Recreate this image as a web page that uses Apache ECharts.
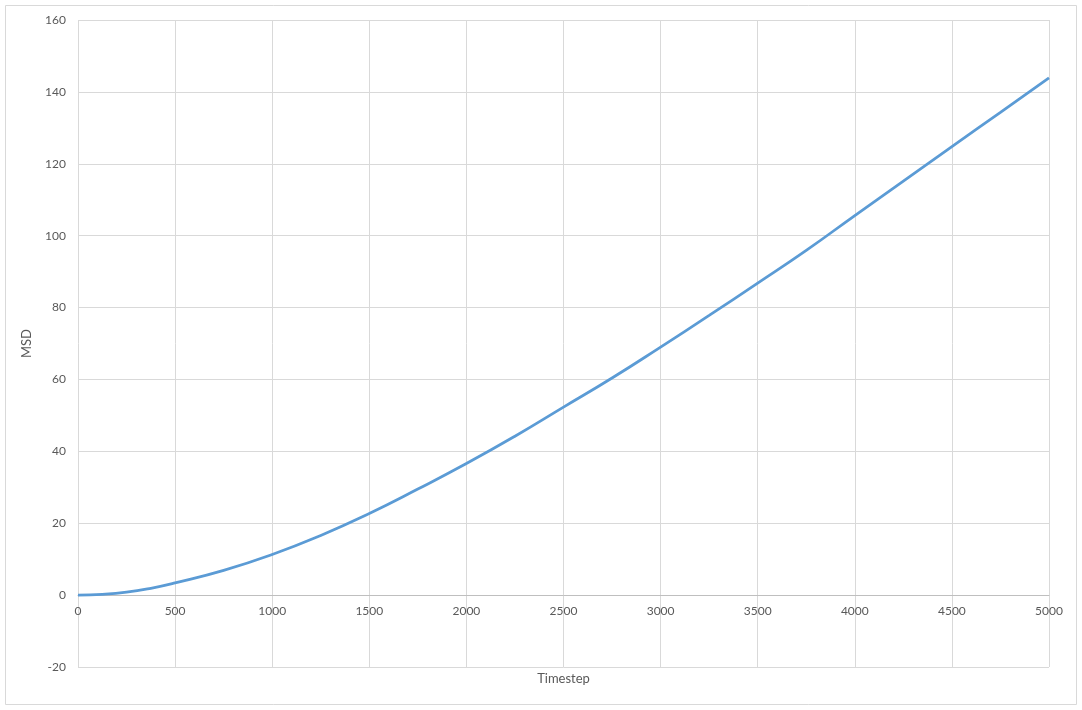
<!DOCTYPE html>
<html>
<head>
<meta charset="utf-8">
<script src="https://cdn.jsdelivr.net/npm/echarts@6/dist/echarts.min.js"></script>
<style>html,body{margin:0;padding:0;background:#fff}#c{width:1082px;height:710px}</style>
</head>
<body>
<div id="c"></div>
<script>
const timesteps = [0, 125, 250, 375, 500, 750, 1000, 1250, 1500, 1750, 2000, 2250, 2500, 2750, 3000, 3250, 3500, 3750, 4000, 4250, 4500, 4750, 5000];
const msd = [0, 0.2, 0.8, 1.9, 3.4, 6.9, 11.3, 16.6, 22.7, 29.5, 36.6, 44.2, 52.3, 60.4, 69.0, 77.8, 86.8, 95.9, 105.6, 115.2, 124.8, 134.3, 143.9];
const xName = 'Timestep';
const yName = 'MSD';

const chart = echarts.init(document.getElementById('c'), null, {renderer: 'canvas'});
const font = 'Lato, "Open Sans", "Liberation Sans", sans-serif';
chart.setOption({
  animation: false,
  backgroundColor: '#ffffff',
  textStyle: {fontFamily: font},
  graphic: [{
    type: 'rect', shape: {x: 5.5, y: 5.5, width: 1071, height: 699},
    style: {fill: 'none', stroke: '#d9d9d9', lineWidth: 1}, silent: true
  }],
  grid: {left: 78, right: 33, top: 20, bottom: 43, containLabel: false, outerBoundsMode: 'none'},
  xAxis: {
    type: 'value', min: 0, max: 5000, interval: 500,
    position: 'bottom', offset: -72,
    name: xName, nameLocation: 'middle', nameGap: 77,
    nameTextStyle: {color: '#595959', fontSize: 13, fontFamily: font},
    axisLine: {show: true, onZero: false, lineStyle: {color: '#bfbfbf', width: 1}},
    axisTick: {show: false},
    axisLabel: {color: '#595959', fontSize: 12, margin: 10, fontFamily: font, formatter: (v) => String(v)},
    splitLine: {show: true, lineStyle: {color: '#d9d9d9', width: 1}}
  },
  yAxis: {
    type: 'value', min: -20, max: 160, interval: 20,
    name: yName, nameLocation: 'middle', nameGap: 45, nameRotate: 90,
    nameTextStyle: {color: '#595959', fontSize: 13, fontFamily: font},
    axisLine: {show: false},
    axisTick: {show: false},
    axisLabel: {color: '#595959', fontSize: 12, margin: 12, fontFamily: font},
    splitLine: {show: true, lineStyle: {color: '#d9d9d9', width: 1}}
  },
  series: [{
    type: 'line',
    data: timesteps.map((t, i) => [t, msd[i]]),
    smooth: true,
    showSymbol: false,
    lineStyle: {color: '#5b9bd5', width: 2.75},
    itemStyle: {color: '#5b9bd5'}
  }]
});
</script>
</body>
</html>
